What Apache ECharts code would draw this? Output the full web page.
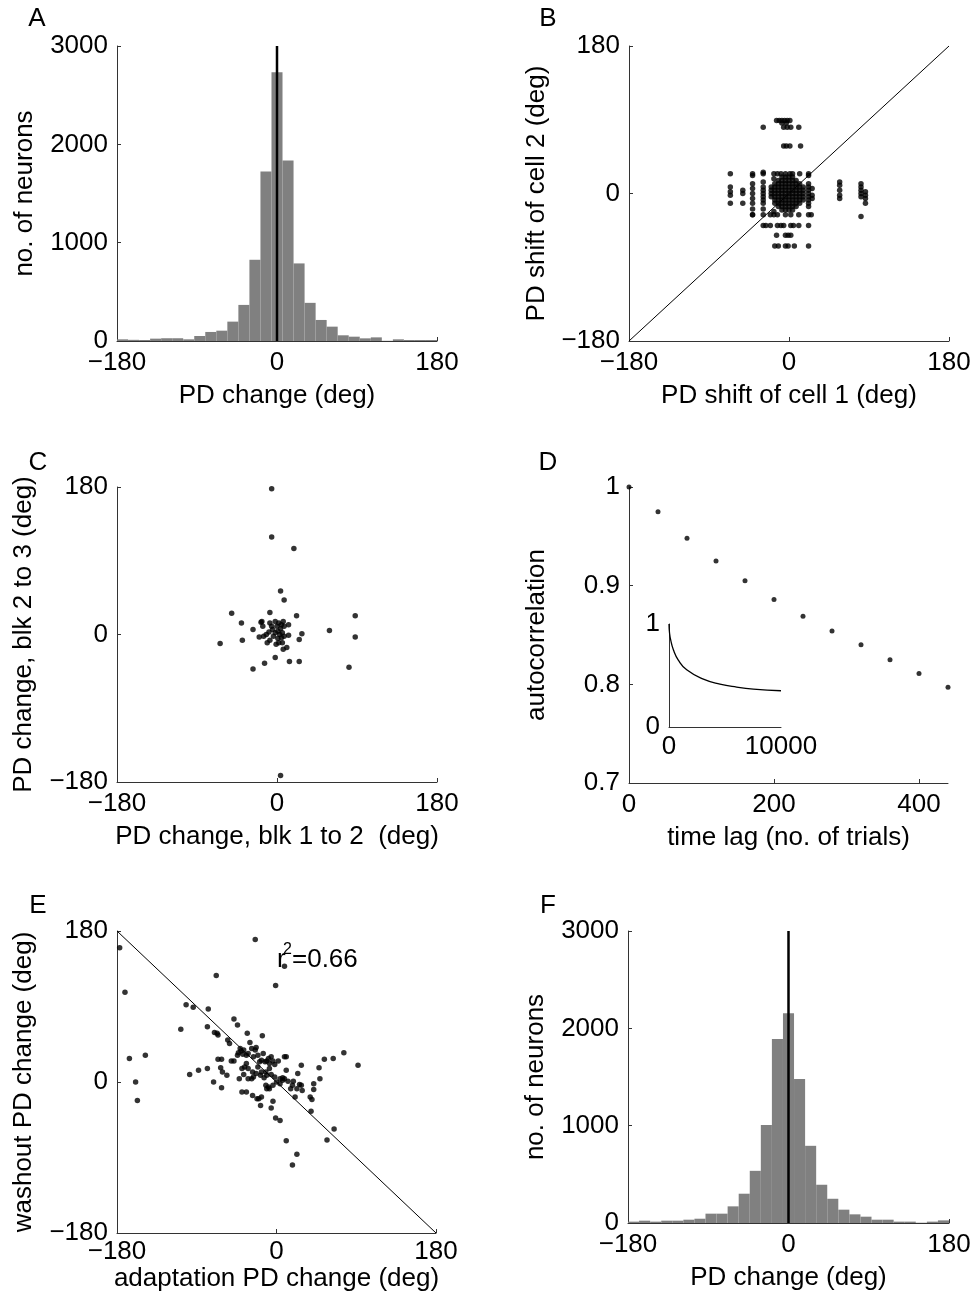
<!DOCTYPE html>
<html><head><meta charset="utf-8">
<script src="https://cdn.jsdelivr.net/npm/echarts@6/dist/echarts.min.js"></script>
<style>html,body{margin:0;padding:0;background:#fff}#c{width:974px;height:1296px}</style>
</head><body><div id="c"></div>
<script>
// ---------- DATA ----------
// Panel A: histogram of PD change (29 bins, -180..180)
const histA = [17,12,10,24,28,28,17,51,92,105,197,367,826,1724,2734,1836,789,388,214,146,58,44,27,37,2,17,10,10,10];
// Panel F: histogram of PD change
const histF = [14,24,14,24,24,34,44,96,96,171,301,536,1008,1890,2156,1480,793,393,249,137,89,65,34,34,14,14,3,14,27];
const binLabels = histA.map((_, i) => 'b' + i);
// Panel B: PD shift of cell 1 vs cell 2
const scatterB = [
 [-14,89],[-11,89],[-8,89],[-5,89],[-2,89],[1,89],[-8,86],[-3,86],
 [-29,81],[-6,81],[-2,81],[2,81],[11,81],
 [-6,58],[-3,58],[1,58],[13,58],
 [-66,24],[-41,24],[-29,24],[-17,24],[-13,24],[-9,24],[-4,24],[1,24],[4,24],[12,24],[22,24],
 [-66,8],[-66,2],[-66,-2],[-66,-12],
 [-52,4],[-52,0],[-52,-12],
 [-41,22],[-41,12],[-41,6],[-41,0],[-41,-6],[-41,-12],[-41,-19],[-41,-26],
 [-29,26],[-29,14],[-29,8],[-29,4],[-29,0],[-29,-4],[-29,-8],[-29,-12],[-29,-19],
 [-17,18],[-17,-22],[-17,-26],
 [-20,-4],[-20,0],[-20,4],[-20,8],[-16,-12],[-16,-8],[-16,-4],[-16,0],[-16,4],[-16,8],[-16,12],
 [-12,-16],[-12,-12],[-12,-8],[-12,-4],[-12,0],[-12,4],[-12,8],[-12,12],[-12,16],
 [-8,-20],[-8,-16],[-8,-12],[-8,-8],[-8,-4],[-8,0],[-8,4],[-8,8],[-8,12],[-8,16],[-8,20],
 [-4,-20],[-4,-16],[-4,-12],[-4,-8],[-4,-4],[-4,0],[-4,4],[-4,8],[-4,12],[-4,16],[-4,20],
 [0,-20],[0,-16],[0,-12],[0,-8],[0,-4],[0,0],[0,4],[0,8],[0,12],[0,16],[0,20],
 [4,-20],[4,-16],[4,-12],[4,-8],[4,-4],[4,0],[4,4],[4,8],[4,12],[4,16],[4,20],
 [8,-16],[8,-12],[8,-8],[8,-4],[8,0],[8,4],[8,8],[8,12],[8,16],
 [12,-12],[12,-8],[12,-4],[12,0],[12,4],[12,8],[12,12],[16,-8],[16,-4],[16,0],[16,4],[16,8],
 [22,22],[22,12],[22,8],[22,4],[22,0],[22,-4],[22,-8],[22,-12],[22,-16],[22,-26],[22,-39],[22,-64],
 [26,6],[26,-2],[26,-6],
 [57,14],[57,10],[57,4],[57,-2],[57,-6],
 [81,12],[81,8],[81,4],[81,0],[81,-4],[81,-28],
 [86,2],[86,-2],[86,-6],[86,-12],
 [-41,-26],[-29,-26],[-21,-26],[-13,-26],[-4,-26],[2,-26],[11,-26],[25,-26],
 [-29,-39],[-26,-39],[-21,-39],[-13,-39],[-9,-39],[-6,-39],[2,-39],[5,-39],[11,-39],
 [-14,-51],[-4,-51],[-1,-51],[2,-51],
 [-16,-64],[-12,-64],[-4,-64],[-1,-64],[6,-64]
];
// Panel C: PD change blk 1->2 vs blk 2->3
const scatterC = [
 [-6,178],[-6,119],[19,105],[4,53],[8,42],[-51,26],[-8,27],[22,23],[88,23],[-40,14],[-17,16],
 [-27,6],[59,5],[28,1],[88,-3],[-64,-11],[-39,-7],[25,-6],[13,12],[13,-1],[-2,-28],[14,-33],
 [25,-33],[-14,-35],[-27,-42],[81,-40],[4,-172],
 [-20,-3],[-16,10],[-18,15],[-12,0],[-11,-10],[-8,-7],[-8,14],[-6,10],[-5,6],[-4,-2],[-2,16],
 [0,10],[1,4],[2,14],[3,0],[4,7],[5,12],[6,2],[7,16],[8,10],[8,-2],[-1,-12],[2,-10],[6,-10],
 [7,-18],[11,-16],[-15,-2],[-9,3],[-2,2],[1,-5],[5,-4]
];
// Panel D: autocorrelation vs lag
const lagD = [0,40,80,120,160,200,240,280,320,360,400,440];
const acD = [1.0,0.975,0.948,0.925,0.905,0.886,0.869,0.854,0.840,0.825,0.811,0.797];
// Panel D inset: long-range autocorrelation
const insetX = [0,50,150,390,830,1580,3070,4550,6040,7530,10000];
const insetY = [1,0.91,0.845,0.75,0.65,0.555,0.465,0.416,0.387,0.368,0.352];
// Panel E: adaptation vs washout PD change
const scatterE = [
 [-177,160],[-171,107],[-166,28],[-148,32],[-159,0],[-157,-22],[-24,170],[-68,127],[-1,115],[9,138],
 [-108,63],[-102,92],[-94,89],[-77,87],[-78,66],[-70,59],[-67,58],[-66,56],[-48,75],[-44,68],
 [-33,58],[-16,55],[-55,50],[-53,46],[-66,27],[-62,27],[-98,9],[-88,14],[-78,16],[-71,0],
 [-62,-7],[-63,17],[-61,12],[-56,8],[-48,25],[-51,25],[-41,40],[-40,37],[-38,33],[-37,38],
 [-43,35],[-44,32],[-34,32],[-32,34],[-30,47],[-28,40],[-26,30],[-24,38],[-23,41],[-21,32],
 [-19,24],[-17,26],[-15,34],[-13,24],[-11,25],[-9,28],[-8,22],[-6,30],[-4,25],[-2,21],
 [2,25],[9,30],[11,30],[-8,16],[-12,12],[-14,5],[-18,8],[-23,10],[-26,6],[-28,4],
 [-32,16],[-34,22],[-36,18],[-39,16],[-37,9],[-42,4],[-32,4],[-27,12],[-21,18],[-17,12],
 [-11,8],[-6,9],[-2,6],[4,4],[7,5],[9,4],[11,14],[13,1],[19,1],[16,-8],
 [18,-4],[23,-8],[26,-3],[28,-4],[28,20],[24,10],[29,-10],[21,-18],[38,-18],[40,-21],
 [39,-35],[42,-2],[42,-9],[48,17],[49,4],[54,27],[64,28],[76,35],[92,20],[-1,-43],
 [4,-46],[11,-70],[23,-86],[18,-99],[57,-69],[65,-56],[-6,-31],[-4,-23],[-18,-28],[-22,-20],
 [-27,-16],[-39,-12],[-34,-12],[-17,-18],[-20,-20],[-11,-8],[-9,-6],[-8,-8],[-12,-4],[-4,-4],
 [0,0],[4,-2],[7,2]
];

// ---------- CHART ----------
const FONT = '"Liberation Sans", Arial, Helvetica, sans-serif';
const FS = 26;
const minusFmt = v => String(v).replace('-', '\u2212');
const grids = [
 {left:117, top:46, width:320, height:295},   // A
 {left:629, top:46, width:320, height:295},   // B
 {left:117, top:487, width:320, height:295},  // C
 {left:629, top:487, width:319, height:296},  // D
 {left:117, top:931, width:319, height:302},  // E
 {left:628, top:931, width:321, height:292},  // F
 {left:669, top:624, width:112, height:103}   // D inset
];
const axLine = {show:true, onZero:false, lineStyle:{color:'#333', width:1}};
const axTick = {show:true, inside:true, length:4, lineStyle:{color:'#333'}};
const lbl = (m) => ({color:'#000', fontSize:FS, fontFamily:FONT, margin:m, formatter:minusFmt});
const nts = (fs) => ({color:'#000', fontSize:fs, fontFamily:FONT});
function valAxis(gi, min, max, interval, extra) {
  return Object.assign({
    type:'value', gridIndex:gi, min:min, max:max, interval:interval,
    axisLine:axLine, axisTick:axTick, splitLine:{show:false},
    axisLabel:lbl(9),
    nameLocation:'middle', nameTextStyle:nts(FS)
  }, extra || {});
}
function catAxis(gi) {
  return {type:'category', gridIndex:gi, data:binLabels, show:false, boundaryGap:true};
}
const xAxes = [
  valAxis(0, -180, 180, 180, {name:'PD change (deg)', nameGap:42}),
  catAxis(0),
  valAxis(1, -180, 180, 180, {name:'PD shift of cell 1 (deg)', nameGap:42}),
  valAxis(2, -180, 180, 180, {name:'PD change, blk 1 to 2  (deg)', nameGap:42}),
  valAxis(3, 0, 440, 200, {name:'time lag (no. of trials)', nameGap:42}),
  valAxis(4, -180, 180, 180, {name:'adaptation PD change (deg)', nameGap:33, axisLabel:lbl(6)}),
  valAxis(5, -180, 180, 180, {name:'PD change (deg)', nameGap:42}),
  catAxis(5),
  valAxis(6, 0, 10000, 10000, {axisTick:{show:false}, axisLabel:{color:'#000', fontSize:FS, fontFamily:FONT, margin:7, formatter: v => String(v)}})
];
const yAxes = [
  valAxis(0, 0, 3000, 1000, {name:'no. of neurons', nameGap:79}),
  valAxis(1, -180, 180, 180, {name:'PD shift of cell 2 (deg)', nameGap:79}),
  valAxis(2, -180, 180, 180, {name:'PD change, blk 2 to 3 (deg)', nameGap:80}),
  valAxis(3, 0.7, 1.0, 0.1, {name:'autocorrelation', nameGap:79}),
  valAxis(4, -180, 180, 180, {name:'washout PD change (deg)', nameGap:80}),
  valAxis(5, 0, 3000, 1000, {name:'no. of neurons', nameGap:79}),
  valAxis(6, 0, 1, 1, {axisTick:{show:false}, axisLabel:{color:'#000', fontSize:FS, fontFamily:FONT, margin:9, formatter: v => String(v)}})
];
const dot = (xi, yi, data, size) => ({type:'scatter', xAxisIndex:xi, yAxisIndex:yi, data:data,
  symbolSize:size||5, itemStyle:{color:'#000'}, silent:true, animation:false, z:3});
const seg = (xi, yi, data, w) => ({type:'line', xAxisIndex:xi, yAxisIndex:yi, data:data, showSymbol:false,
  symbol:'none', lineStyle:{color:'#000', width:w}, silent:true, animation:false, z:4});
const bars = (xi, yi, data) => ({type:'bar', xAxisIndex:xi, yAxisIndex:yi, data:data, barWidth:'100%',
  barCategoryGap:'0%', itemStyle:{color:'#808080'}, silent:true, animation:false});

const series = [
  bars(1, 0, histA),
  seg(0, 0, [[0,0],[0,3000]], 2.5),
  seg(2, 1, [[-180,-180],[180,180]], 1),
  dot(2, 1, scatterB, 5.5),
  dot(3, 2, scatterC, 5.5),
  dot(4, 3, lagD.map((x,i)=>[x, acD[i]]), 5),
  Object.assign(seg(8, 6, insetX.map((x,i)=>[x, insetY[i]]), 1.3), {smooth:true}),
  seg(5, 4, [[-180,180],[180,-180]], 1),
  dot(5, 4, scatterE, 5.5),
  bars(7, 5, histF),
  seg(6, 5, [[0,0],[0,3000]], 2.5)
];
const txt = (t, x, y, fs, align) => ({type:'text', x:x, y:y, z:10,
  style:{text:t, fill:'#000', fontSize:fs, fontFamily:FONT, align:align||'center', verticalAlign:'middle'}});
const letters = [['A',37,19],['B',548,19],['C',38,463],['D',548,463],['E',38,906],['F',548,906]];
const graphic = letters.map(l => txt(l[0], l[1], l[2], FS));
graphic.push(txt('r', 277, 960, FS, 'left'));
graphic.push(txt('2', 283, 950, 16, 'left'));
graphic.push(txt('=0.66', 292, 960, FS, 'left'));

const chart = echarts.init(document.getElementById('c'), null, {renderer:'canvas'});
chart.setOption({animation:false, backgroundColor:'#fff', grid:grids, xAxis:xAxes, yAxis:yAxes, series:series, graphic:graphic});
</script></body></html>
